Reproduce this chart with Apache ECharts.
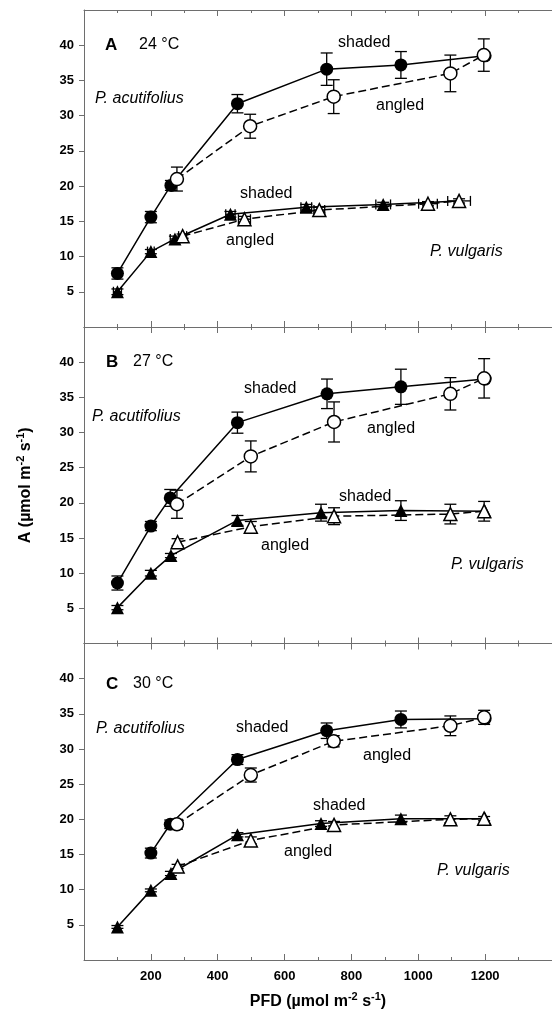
<!DOCTYPE html>
<html>
<head>
<meta charset="utf-8">
<script src="https://cdn.jsdelivr.net/npm/echarts@6/dist/echarts.min.js"></script>
<style>
  html, body { margin: 0; padding: 0; background: #fff; }
  #chart { width: 552px; height: 1020px; }
</style>
</head>
<body>
<div id="chart"></div>
<script>
// x ticks (PFD) and y ticks (A)
const pfdTicks = [200, 400, 600, 800, 1000, 1200];
const aTicks = [5, 10, 15, 20, 25, 30, 35, 40];

// ---- panel A, 24 °C ----
const aAcutShadedPfd = [100, 200, 260, 459, 726, 948, 1200];
const aAcutShadedVal = [7.6, 15.6, 20.1, 31.7, 36.6, 37.2, 38.5];
const aAcutShadedErr = [0.8, 0.8, 0.7, 1.3, 2.3, 1.9, 0];
const aAcutAngledPfd = [278, 497, 747, 1096, 1196];
const aAcutAngledVal = [21.0, 28.5, 32.7, 36.0, 38.6];
const aAcutAngledErr = [1.7, 1.7, 2.4, 2.6, 2.3];
const aVulgShadedPfd = [100, 200, 272, 438, 665, 895, 1122];
const aVulgShadedVal = [5.0, 10.7, 12.5, 16.0, 17.0, 17.4, 17.9];
const aVulgShadedErr = [0.4, 0.3, 0.4, 0.4, 0.4, 0.3, 0];
const aVulgShadedPfdErr = [12, 10, 14, 14, 16, 22, 0];
const aVulgAngledPfd = [295, 480, 704, 1029, 1122];
const aVulgAngledVal = [12.9, 15.3, 16.6, 17.5, 17.9];
const aVulgAngledErr = [0.3, 0.4, 0.4, 0.3, 0.3];
const aVulgAngledPfdErr = [12, 18, 16, 28, 34];

// ---- panel B, 27 °C ----
const bAcutShadedPfd = [100, 200, 258, 459, 727, 948, 1200];
const bAcutShadedVal = [8.6, 16.7, 20.7, 31.4, 35.5, 36.5, 37.6];
const bAcutShadedErr = [1.0, 0.65, 1.2, 1.5, 2.1, 2.5, 0];
const bAcutAngledPfd = [278, 499, 748, 1096, 1197];
const bAcutAngledVal = [19.8, 26.6, 31.5, 35.5, 37.7];
const bAcutAngledErr = [2.0, 2.2, 2.85, 2.3, 2.8];
const bVulgShadedPfd = [100, 200, 260, 459, 709, 948, 1200];
const bVulgShadedVal = [5.1, 10.0, 12.5, 17.5, 18.6, 18.9, 18.8];
const bVulgShadedErr = [0.3, 0.4, 0.3, 0.7, 1.2, 1.4, 0];
const bVulgAngledPfd = [280, 499, 748, 1096, 1197];
const bVulgAngledVal = [14.4, 16.6, 18.1, 18.4, 18.8];
const bVulgAngledErr = [0.5, 0.75, 1.2, 1.4, 1.4];

// ---- panel C, 30 °C ----
const cAcutShadedPfd = [200, 258, 459, 726, 948, 1200];
const cAcutShadedVal = [15.2, 19.3, 28.5, 32.6, 34.2, 34.3];
const cAcutShadedErr = [0.7, 0.6, 0.7, 1.1, 1.2, 0];
const cAcutAngledPfd = [278, 499, 747, 1096, 1197];
const cAcutAngledVal = [19.3, 26.3, 31.1, 33.3, 34.5];
const cAcutAngledErr = [0.7, 1.0, 0.8, 1.4, 1.0];
const cVulgShadedPfd = [100, 200, 260, 459, 709, 948, 1200];
const cVulgShadedVal = [4.7, 9.9, 12.3, 17.8, 19.4, 20.1, 20.1];
const cVulgShadedErr = [0.2, 0.2, 0.3, 0.3, 0.4, 0.5, 0];
const cVulgAngledPfd = [280, 499, 748, 1096, 1197];
const cVulgAngledVal = [13.3, 17.0, 19.2, 20.0, 20.1];
const cVulgAngledErr = [0.3, 0.5, 0.5, 0.5, 0.3];

const panelLetters = ['A', 'B', 'C'];
const panelTemps = ['24 °C', '27 °C', '30 °C'];

const FONT = 'Liberation Sans, Arial, sans-serif';
const AXIS_GRAY = '#6e6e6e';

// grids stacked with no gap; right edge runs past the page like the original
const gridTops = [10, 327, 643.5];
const gridH = [317, 316.5, 316.5];

function pts(pfd, val, err, pfdErr) {
    return pfd.map(function (p, i) {
        return [p, val[i], err[i], pfdErr ? pfdErr[i] : 0];
    });
}

function errorBarItem(params, api) {
    var x = api.value(0), y = api.value(1), ey = api.value(2), ex = api.value(3);
    var c = api.coord([x, y]);
    var st = { stroke: '#000', lineWidth: 1.3 };
    var kids = [];
    if (ey > 0) {
        var hi = api.coord([x, y + ey]), lo = api.coord([x, y - ey]);
        kids.push({ type: 'line', shape: { x1: c[0], y1: hi[1], x2: c[0], y2: lo[1] }, style: st });
        kids.push({ type: 'line', shape: { x1: c[0] - 6, y1: hi[1], x2: c[0] + 6, y2: hi[1] }, style: st });
        kids.push({ type: 'line', shape: { x1: c[0] - 6, y1: lo[1], x2: c[0] + 6, y2: lo[1] }, style: st });
    }
    if (ex > 0) {
        var l = api.coord([x - ex, y]), r = api.coord([x + ex, y]);
        kids.push({ type: 'line', shape: { x1: l[0], y1: c[1], x2: r[0], y2: c[1] }, style: st });
        kids.push({ type: 'line', shape: { x1: l[0], y1: c[1] - 5, x2: l[0], y2: c[1] + 5 }, style: st });
        kids.push({ type: 'line', shape: { x1: r[0], y1: c[1] - 5, x2: r[0], y2: c[1] + 5 }, style: st });
    }
    return { type: 'group', children: kids };
}

const panelData = [
    [pts(aAcutShadedPfd, aAcutShadedVal, aAcutShadedErr), pts(aAcutAngledPfd, aAcutAngledVal, aAcutAngledErr),
     pts(aVulgShadedPfd, aVulgShadedVal, aVulgShadedErr, aVulgShadedPfdErr), pts(aVulgAngledPfd, aVulgAngledVal, aVulgAngledErr, aVulgAngledPfdErr)],
    [pts(bAcutShadedPfd, bAcutShadedVal, bAcutShadedErr), pts(bAcutAngledPfd, bAcutAngledVal, bAcutAngledErr),
     pts(bVulgShadedPfd, bVulgShadedVal, bVulgShadedErr), pts(bVulgAngledPfd, bVulgAngledVal, bVulgAngledErr)],
    [pts(cAcutShadedPfd, cAcutShadedVal, cAcutShadedErr), pts(cAcutAngledPfd, cAcutAngledVal, cAcutAngledErr),
     pts(cVulgShadedPfd, cVulgShadedVal, cVulgShadedErr), pts(cVulgAngledPfd, cVulgAngledVal, cVulgAngledErr)]
];

// order inside a panel: acut shaded, acut angled, vulg shaded, vulg angled
const groupSymbol = ['circle', 'circle', 'triangle', 'triangle'];
const groupOpen = [false, true, false, true];

var grids = [], xAxes = [], yAxes = [], series = [];

for (let g = 0; g < 3; g++) {
    grids.push({ left: 84, right: -9, top: gridTops[g], height: gridH[g] });

    ['bottom', 'top'].forEach(function (pos) {
        var ax = {
            gridIndex: g, type: 'value', position: pos,
            min: 0, max: 1400, interval: 200,
            axisLine: { show: true, onZero: false, lineStyle: { color: AXIS_GRAY, width: 1 } },
            axisTick: { show: true, inside: true, length: 6, lineStyle: { color: AXIS_GRAY } },
            minorTick: { show: true, splitNumber: 2, length: 3, lineStyle: { color: AXIS_GRAY } },
            splitLine: { show: false },
            axisLabel: { show: false }
        };
        if (pos === 'bottom' && g === 2) {
            ax.axisLabel = {
                show: true, customValues: pfdTicks, margin: 10,
                formatter: function (v) { return String(v); },
                fontFamily: FONT, fontSize: 13, fontWeight: 'bold', color: '#000'
            };
            ax.name = '{t|PFD (µmol m}{s|-2}{t| s}{s|-1}{t|)}';
            ax.nameLocation = 'middle';
            ax.nameGap = 31;
            ax.nameTextStyle = {
                rich: {
                    t: { fontFamily: FONT, fontSize: 16, fontWeight: 'bold', color: '#000', lineHeight: 22 },
                    s: { fontFamily: FONT, fontSize: 11, fontWeight: 'bold', color: '#000', verticalAlign: 'top', lineHeight: 12 }
                }
            };
        }
        xAxes.push(ax);
    });

    var yAx = {
        gridIndex: g, type: 'value', min: 0, max: 45, interval: 5,
        axisLine: { show: true, lineStyle: { color: AXIS_GRAY, width: 1 } },
        axisTick: { show: true, inside: false, length: 5, customValues: aTicks, lineStyle: { color: AXIS_GRAY } },
        splitLine: { show: false },
        axisLabel: { customValues: aTicks, margin: 10, fontFamily: FONT, fontSize: 13, fontWeight: 'bold', color: '#000' }
    };
    if (g === 1) {
        yAx.name = '{t|A (µmol m}{s|-2}{t| s}{s|-1}{t|)}';
        yAx.nameLocation = 'middle';
        yAx.nameRotate = 90;
        yAx.nameGap = 47;
        yAx.nameTextStyle = {
            rich: {
                t: { fontFamily: FONT, fontSize: 16, fontWeight: 'bold', color: '#000', lineHeight: 22 },
                s: { fontFamily: FONT, fontSize: 11, fontWeight: 'bold', color: '#000', verticalAlign: 'top', lineHeight: 12 }
            }
        };
    }
    yAxes.push(yAx);

    // error bars under the markers
    panelData[g].forEach(function (d) {
        series.push({
            type: 'custom', xAxisIndex: g * 2, yAxisIndex: g,
            renderItem: errorBarItem, data: d, z: 2,
            encode: { x: 0, y: 1 }, silent: true
        });
    });

    // filled series first, open symbols drawn over them
    [0, 2, 1, 3].forEach(function (k) {
        var open = groupOpen[k];
        series.push({
            type: 'line', xAxisIndex: g * 2, yAxisIndex: g,
            data: panelData[g][k].map(function (p) { return [p[0], p[1]]; }),
            symbol: groupSymbol[k],
            symbolSize: groupSymbol[k] === 'circle' ? 13 : 13,
            showSymbol: true,
            z: open ? 4 : 3,
            lineStyle: { color: '#000', width: 1.5, type: open ? [8, 4] : 'solid' },
            itemStyle: open
                ? { color: '#fff', borderColor: '#000', borderWidth: 1.5 }
                : { color: '#000', borderColor: '#000', borderWidth: 0 }
        });
    });
}

// annotations [text, x, y, kind]
const notes = [
    ['A', 105, 45, 'letter'], ['24 °C', 139, 45, 'plain'],
    ['P. acutifolius', 95, 99, 'italic'],
    ['shaded', 338, 43, 'plain'], ['angled', 376, 106, 'plain'],
    ['shaded', 240, 194, 'plain'], ['angled', 226, 241, 'plain'],
    ['P. vulgaris', 430, 252, 'italic'],

    ['B', 106, 362, 'letter'], ['27 °C', 133, 362, 'plain'],
    ['P. acutifolius', 92, 417, 'italic'],
    ['shaded', 244, 389, 'plain'], ['angled', 367, 429, 'plain'],
    ['shaded', 339, 497, 'plain'], ['angled', 261, 546, 'plain'],
    ['P. vulgaris', 451, 565, 'italic'],

    ['C', 106, 684, 'letter'], ['30 °C', 133, 684, 'plain'],
    ['P. acutifolius', 96, 729, 'italic'],
    ['shaded', 236, 728, 'plain'], ['angled', 363, 756, 'plain'],
    ['shaded', 313, 806, 'plain'], ['angled', 284, 852, 'plain'],
    ['P. vulgaris', 437, 871, 'italic']
];

var graphics = notes.map(function (n) {
    return {
        type: 'text', x: n[1], y: n[2], z: 10, silent: true,
        style: {
            text: n[0], fill: '#000', fontFamily: FONT,
            fontSize: n[3] === 'letter' ? 17 : 16,
            fontWeight: n[3] === 'letter' ? 'bold' : 'normal',
            fontStyle: n[3] === 'italic' ? 'italic' : 'normal',
            align: 'left', verticalAlign: 'middle'
        }
    };
});

var chart = echarts.init(document.getElementById('chart'));
chart.setOption({
    animation: false,
    backgroundColor: '#fff',
    grid: grids,
    xAxis: xAxes,
    yAxis: yAxes,
    series: series,
    graphic: graphics
});
</script>
</body>
</html>
